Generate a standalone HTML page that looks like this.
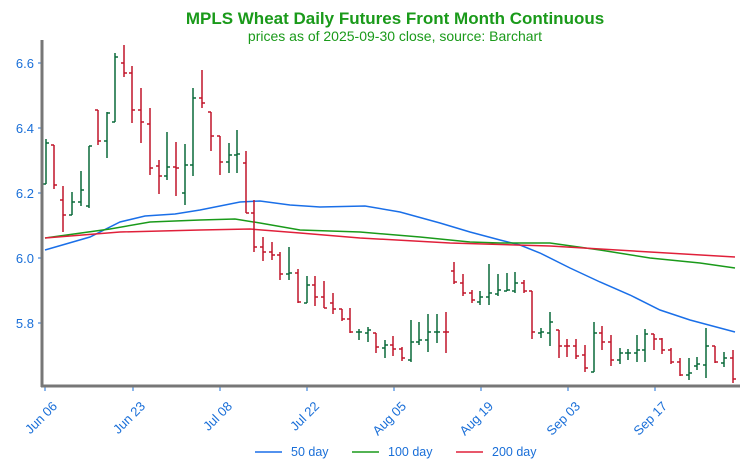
<!DOCTYPE html>
<html><head><meta charset="utf-8"><style>
body{margin:0;background:#fff;}
svg{display:block;font-family:"Liberation Sans",sans-serif;}
</style></head><body>
<svg width="746" height="474" viewBox="0 0 746 474" xmlns="http://www.w3.org/2000/svg">
<text x="395" y="24" text-anchor="middle" font-size="17" font-weight="bold" fill="#1a9a1a">MPLS Wheat Daily Futures Front Month Continuous</text>
<text x="395" y="41" text-anchor="middle" font-size="14" fill="#1a9a1a">prices as of 2025-09-30 close, source: Barchart</text>
<g font-size="13" fill="#1a6fd8" text-anchor="end">
<text x="34" y="68">6.6</text><text x="34" y="133">6.4</text><text x="34" y="198">6.2</text><text x="34" y="263">6.0</text><text x="34" y="328">5.8</text>
</g>
<g stroke="#1a6fd8" stroke-width="1">
<line x1="38" y1="63" x2="42" y2="63"/><line x1="38" y1="128" x2="42" y2="128"/><line x1="38" y1="193" x2="42" y2="193"/><line x1="38" y1="258" x2="42" y2="258"/><line x1="38" y1="323" x2="42" y2="323"/>
<line x1="45" y1="386" x2="45" y2="391"/><line x1="133" y1="386" x2="133" y2="391"/><line x1="220" y1="386" x2="220" y2="391"/><line x1="307" y1="386" x2="307" y2="391"/><line x1="394" y1="386" x2="394" y2="391"/><line x1="481" y1="386" x2="481" y2="391"/><line x1="568" y1="386" x2="568" y2="391"/><line x1="655" y1="386" x2="655" y2="391"/>
</g>
<g font-size="13" fill="#1a6fd8" text-anchor="end">
<text transform="translate(58,407) rotate(-45)">Jun 06</text>
<text transform="translate(146,407) rotate(-45)">Jun 23</text>
<text transform="translate(233,407) rotate(-45)">Jul 08</text>
<text transform="translate(320,407) rotate(-45)">Jul 22</text>
<text transform="translate(407,407) rotate(-45)">Aug 05</text>
<text transform="translate(494,407) rotate(-45)">Aug 19</text>
<text transform="translate(581,407) rotate(-45)">Sep 03</text>
<text transform="translate(668,407) rotate(-45)">Sep 17</text>
</g>
<g fill="none" stroke-width="1.5">
<polyline stroke="#1a6fe8" points="45,250 90,237 120,222 145,216 175,214 200,210 240,202 260,201 290,205 320,207 365,206 400,212 440,223 470,232 500,240 520,245 540,253 570,268 600,282 630,295 660,310 690,320 735,332"/>
<polyline stroke="#1a9a1a" points="45,238 110,229 150,222 200,220 235,219 260,223 300,230 360,232 420,237 470,242 500,243 550,243 600,250 650,258 700,263 735,268"/>
<polyline stroke="#e0203a" points="45,238 120,232 200,230 250,229 300,233 360,238 450,243 550,246 650,252 735,257"/>
</g>
<g stroke-width="1.5" fill="none">
<path stroke="#0a6a3a" d="M46 139V184M43 184H46M46 143H49"/>
<path stroke="#c0152a" d="M54 145V189M51 145H54M54 185H57"/>
<path stroke="#c0152a" d="M63 186V232M60 200H63M63 215H66"/>
<path stroke="#0a6a3a" d="M72 192V215M69 215H72M72 202H75"/>
<path stroke="#0a6a3a" d="M81 171V206M78 202H81M81 190H84"/>
<path stroke="#0a6a3a" d="M89 146V208M86 206H89M89 146H92"/>
<path stroke="#c0152a" d="M98 110V145M95 110H98M98 141H101"/>
<path stroke="#0a6a3a" d="M107 112V158M104 141H107M107 113H110"/>
<path stroke="#0a6a3a" d="M115 53V122M112 122H115M115 57H118"/>
<path stroke="#c0152a" d="M124 45V77M121 63H124M124 73H127"/>
<path stroke="#c0152a" d="M132 66V123M129 73H132M132 110H135"/>
<path stroke="#c0152a" d="M141 88V143M138 110H141M141 122H144"/>
<path stroke="#c0152a" d="M150 108V175M147 124H150M150 168H153"/>
<path stroke="#c0152a" d="M159 160V194M156 166H159M159 176H162"/>
<path stroke="#0a6a3a" d="M167 132V180M164 176H167M167 167H170"/>
<path stroke="#c0152a" d="M176 142V196M173 167H176M176 168H179"/>
<path stroke="#0a6a3a" d="M185 144V205M182 193H185M185 165H188"/>
<path stroke="#0a6a3a" d="M193 88V176M190 165H193M193 98H196"/>
<path stroke="#c0152a" d="M202 70V108M199 98H202M202 103H205"/>
<path stroke="#c0152a" d="M211 112V151M208 112H211M211 136H214"/>
<path stroke="#c0152a" d="M220 136V175M217 136H220M220 162H223"/>
<path stroke="#0a6a3a" d="M229 143V173M226 162H229M229 155H232"/>
<path stroke="#0a6a3a" d="M237 130V173M234 155H237M237 154H240"/>
<path stroke="#c0152a" d="M246 151V213M243 163H246M246 213H249"/>
<path stroke="#c0152a" d="M254 200V252M251 213H254M254 247H257"/>
<path stroke="#c0152a" d="M263 237V261M260 247H263M263 252H266"/>
<path stroke="#c0152a" d="M272 242V260M269 252H272M272 255H275"/>
<path stroke="#c0152a" d="M280 252V280M277 255H280M280 274H283"/>
<path stroke="#0a6a3a" d="M289 247V280M286 274H289M289 273H292"/>
<path stroke="#c0152a" d="M298 269V303M295 273H298M298 302H301"/>
<path stroke="#0a6a3a" d="M307 276V303M304 303H307M307 285H310"/>
<path stroke="#c0152a" d="M315 276V306M312 285H315M315 297H318"/>
<path stroke="#c0152a" d="M324 281V308M321 297H324M324 308H327"/>
<path stroke="#c0152a" d="M333 293V314M330 303H333M333 309H336"/>
<path stroke="#c0152a" d="M342 309V321M339 309H342M342 319H345"/>
<path stroke="#c0152a" d="M350 308V333M347 319H350M350 332H353"/>
<path stroke="#0a6a3a" d="M359 329V340M356 332H359M359 332H362"/>
<path stroke="#0a6a3a" d="M368 327V342M365 333H368M368 330H371"/>
<path stroke="#c0152a" d="M376 333V353M373 333H376M376 347H379"/>
<path stroke="#0a6a3a" d="M385 340V358M382 348H385M385 345H388"/>
<path stroke="#c0152a" d="M393 336V356M390 345H393M393 349H396"/>
<path stroke="#c0152a" d="M402 347V361M399 349H402M402 358H405"/>
<path stroke="#0a6a3a" d="M411 320V362M408 360H411M411 342H414"/>
<path stroke="#0a6a3a" d="M419 322V345M416 342H419M419 340H422"/>
<path stroke="#0a6a3a" d="M428 314V352M425 340H428M428 332H431"/>
<path stroke="#0a6a3a" d="M437 314V343M434 332H437M437 332H440"/>
<path stroke="#c0152a" d="M446 312V353M443 332H446M446 332H449"/>
<path stroke="#c0152a" d="M454 262V284M451 271H454M454 282H457"/>
<path stroke="#c0152a" d="M463 274V296M460 283H463M463 293H466"/>
<path stroke="#c0152a" d="M472 290V303M469 293H472M472 300H475"/>
<path stroke="#0a6a3a" d="M480 291V305M477 302H480M480 297H483"/>
<path stroke="#0a6a3a" d="M489 264V305M486 297H489M489 293H492"/>
<path stroke="#0a6a3a" d="M498 274V296M495 294H498M498 290H501"/>
<path stroke="#0a6a3a" d="M507 273V291M504 291H507M507 290H510"/>
<path stroke="#0a6a3a" d="M515 272V293M512 291H515M515 283H518"/>
<path stroke="#c0152a" d="M524 280V293M521 283H524M524 291H527"/>
<path stroke="#c0152a" d="M532 291V339M529 291H532M532 332H535"/>
<path stroke="#0a6a3a" d="M541 328V338M538 333H541M541 332H544"/>
<path stroke="#0a6a3a" d="M550 312V346M547 333H550M550 322H553"/>
<path stroke="#c0152a" d="M559 330V358M556 330H559M559 346H562"/>
<path stroke="#c0152a" d="M567 339V357M564 346H567M567 346H570"/>
<path stroke="#c0152a" d="M576 339V359M573 346H576M576 356H579"/>
<path stroke="#c0152a" d="M585 345V372M582 355H585M585 368H588"/>
<path stroke="#0a6a3a" d="M594 322V372M591 372H594M594 333H597"/>
<path stroke="#c0152a" d="M602 326V350M599 333H602M602 342H605"/>
<path stroke="#c0152a" d="M611 335V366M608 342H611M611 360H614"/>
<path stroke="#0a6a3a" d="M620 348V364M617 360H620M620 353H623"/>
<path stroke="#0a6a3a" d="M628 349V360M625 353H628M628 353H631"/>
<path stroke="#0a6a3a" d="M637 335V362M634 353H637M637 350H640"/>
<path stroke="#0a6a3a" d="M645 329V362M642 350H645M645 334H648"/>
<path stroke="#c0152a" d="M654 334V350M651 334H654M654 339H657"/>
<path stroke="#c0152a" d="M662 338V354M659 339H662M662 350H665"/>
<path stroke="#c0152a" d="M671 348V364M668 350H671M671 362H674"/>
<path stroke="#c0152a" d="M680 358V376M677 362H680M680 375H683"/>
<path stroke="#0a6a3a" d="M689 358V380M686 375H689M689 373H692"/>
<path stroke="#0a6a3a" d="M697 357V370M694 366H697M697 364H700"/>
<path stroke="#0a6a3a" d="M706 328V378M703 365H706M706 346H709"/>
<path stroke="#c0152a" d="M715 346V363M712 346H715M715 362H718"/>
<path stroke="#0a6a3a" d="M724 352V367M721 363H724M724 358H727"/>
<path stroke="#c0152a" d="M733 350V383M730 358H733M733 379H736"/>
</g>
<line x1="42" y1="40" x2="42" y2="387" stroke="#777" stroke-width="3"/>
<line x1="41" y1="386" x2="740" y2="386" stroke="#777" stroke-width="3"/>
<g font-size="12.5" fill="#1a6fd8">
<line x1="255" y1="452" x2="282" y2="452" stroke="#1a6fe8" stroke-width="1.5"/><text x="291" y="456">50 day</text>
<line x1="352" y1="452" x2="379" y2="452" stroke="#1a9a1a" stroke-width="1.5"/><text x="388" y="456">100 day</text>
<line x1="456" y1="452" x2="483" y2="452" stroke="#e0203a" stroke-width="1.5"/><text x="492" y="456">200 day</text>
</g>
</svg>
</body></html>
